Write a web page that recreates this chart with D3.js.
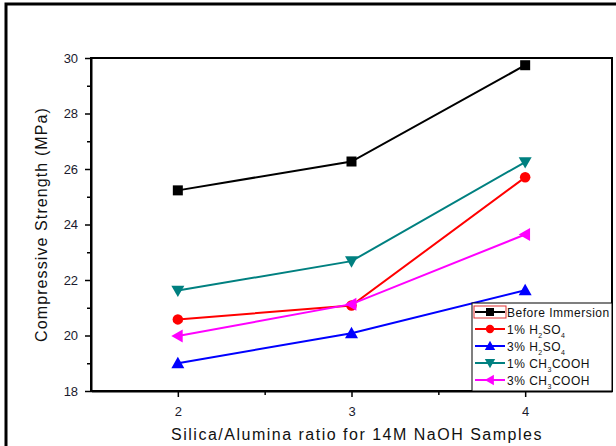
<!DOCTYPE html>
<html><head><meta charset="utf-8">
<script src="https://cdn.jsdelivr.net/npm/d3@7"></script>
<style>body{margin:0;background:#fff}svg{display:block}</style>
</head><body>
<svg id="c" width="616" height="446"></svg>
<script>
const ratios = [2, 3, 4];
const beforeImmersion = [25.23, 26.27, 29.74];
const h2so4_1 = [20.58, 21.08, 25.70];
const h2so4_3 = [19.00, 20.08, 21.63];
const ch3cooh_1 = [21.62, 22.68, 26.25];
const ch3cooh_3 = [19.98, 21.13, 23.64];
const yTicks = [18, 20, 22, 24, 26, 28, 30];
const xTicks = [2, 3, 4];

const series = [
  {name: "Before Immersion", sub: null, values: beforeImmersion, color: "#000000", marker: "square"},
  {name: "1% H2SO4", sub: ["1% H", "2", "SO", "4"], values: h2so4_1, color: "#ff0000", marker: "circle"},
  {name: "3% H2SO4", sub: ["3% H", "2", "SO", "4"], values: h2so4_3, color: "#0000ff", marker: "up"},
  {name: "1% CH3COOH", sub: ["1% CH", "3", "COOH", ""], values: ch3cooh_1, color: "#008080", marker: "down"},
  {name: "3% CH3COOH", sub: ["3% CH", "3", "COOH", ""], values: ch3cooh_3, color: "#ff00ff", marker: "left"}
];

const svg = d3.select("#c");
const L = 91, R = 612, T = 58, B = 391;
const x = d3.scaleLinear().domain([1.5, 4.5]).range([L, R]);
const y = d3.scaleLinear().domain([18, 30]).range([B, T]);
const font = "Arial, 'Liberation Sans', sans-serif";

// outer frame
svg.append("path").attr("d", `M6,446 V4 H616`).attr("fill", "none").attr("stroke", "#000").attr("stroke-width", 3);

// plot box
svg.append("rect").attr("x", L).attr("y", T).attr("width", R - L).attr("height", B - T)
  .attr("fill", "none").attr("stroke", "#000").attr("stroke-width", 2);

// axes
const xAxis = d3.axisBottom(x).tickValues(xTicks).tickFormat(d3.format("d")).tickSize(6).tickSizeOuter(0);
const gx = svg.append("g").attr("transform", `translate(0,${B})`).call(xAxis);
const xMinor = d3.axisBottom(x).tickValues([2.5, 3.5]).tickFormat("").tickSize(4).tickSizeOuter(0);
svg.append("g").attr("transform", `translate(0,${B})`).call(xMinor).select(".domain").remove();

const yAxis = d3.axisLeft(y).tickValues(yTicks).tickFormat(d3.format("d")).tickSize(6).tickSizeOuter(0);
const gy = svg.append("g").attr("transform", `translate(${L},0)`).call(yAxis);
const yMinor = d3.axisLeft(y).tickValues([19, 21, 23, 25, 27, 29]).tickFormat("").tickSize(4).tickSizeOuter(0);
svg.append("g").attr("transform", `translate(${L},0)`).call(yMinor).select(".domain").remove();

svg.selectAll(".domain").attr("stroke-width", 2);
svg.selectAll(".tick line").attr("stroke-width", 1.5).attr("stroke", "#000");
svg.selectAll(".tick text").attr("font-family", font).attr("font-size", 13).attr("fill", "#1a1a2e");
gx.selectAll(".tick text").attr("dy", "1.2em");
gy.selectAll(".tick text").attr("dx", "-0.3em");

// axis titles
svg.append("text").attr("x", 357).attr("y", 440).attr("text-anchor", "middle")
  .attr("font-family", font).attr("font-size", 16).attr("letter-spacing", 1.5).attr("fill", "#111")
  .text("Silica/Alumina ratio for 14M NaOH Samples");
svg.append("text").attr("transform", `translate(47,${(T + B) / 2}) rotate(-90)`).attr("text-anchor", "middle")
  .attr("font-family", font).attr("font-size", 16).attr("letter-spacing", 1.1).attr("fill", "#111")
  .text("Compressive Strength (MPa)");

function marker(g, type, cx, cy, color, s) {
  let p;
  if (type === "square") {
    g.append("rect").attr("x", cx - s).attr("y", cy - s).attr("width", 2 * s).attr("height", 2 * s).attr("fill", color);
    return;
  }
  if (type === "circle") {
    g.append("circle").attr("cx", cx).attr("cy", cy).attr("r", s * 1.05).attr("fill", color);
    return;
  }
  const k = s * 1.3;
  if (type === "up") p = [[cx, cy - k], [cx + k, cy + k * 0.75], [cx - k, cy + k * 0.75]];
  if (type === "down") p = [[cx, cy + k], [cx + k, cy - k * 0.75], [cx - k, cy - k * 0.75]];
  if (type === "left") p = [[cx - k, cy], [cx + k * 0.75, cy - k], [cx + k * 0.75, cy + k]];
  g.append("polygon").attr("points", p.map(q => q.join(",")).join(" ")).attr("fill", color);
}

const line = d3.line().x((d, i) => x(ratios[i])).y(d => y(d));
const order = [1, 2, 3, 4, 0];
order.forEach(si => {
  const s = series[si];
  const g = svg.append("g");
  g.append("path").attr("d", line(s.values)).attr("fill", "none").attr("stroke", s.color).attr("stroke-width", 2);
  s.values.forEach((v, i) => marker(g, s.marker, x(ratios[i]), y(v), s.color, 5));
});

// legend
const lg = svg.append("g");
const lx = 472, ly = 303;
lg.append("rect").attr("x", lx).attr("y", ly).attr("width", R - lx).attr("height", B - ly)
  .attr("fill", "#fff").attr("stroke", "#000").attr("stroke-width", 1);
series.forEach((s, i) => {
  const cy = 312 + i * 17;
  lg.append("line").attr("x1", lx + 3).attr("x2", lx + 33).attr("y1", cy).attr("y2", cy)
    .attr("stroke", s.color).attr("stroke-width", 2);
  marker(lg, s.marker, lx + 18, cy, s.color, 4);
  const t = lg.append("text").attr("x", lx + 35).attr("y", cy + 4.5).attr("font-family", font)
    .attr("font-size", 12).attr("letter-spacing", 0.5).attr("fill", "#111");
  if (!s.sub) { t.text(s.name); }
  else {
    t.append("tspan").text(s.sub[0]);
    t.append("tspan").attr("font-size", 7).attr("dy", 4).text(s.sub[1]);
    t.append("tspan").attr("dy", -4).text(s.sub[2]);
    if (s.sub[3]) t.append("tspan").attr("font-size", 7).attr("dy", 4).text(s.sub[3]);
  }
});
// selection highlight around first legend symbol
lg.append("rect").attr("x", lx + 2).attr("y", 306).attr("width", 32).attr("height", 12)
  .attr("fill", "none").attr("stroke", "#e03030").attr("stroke-width", 1);
</script>
</body></html>
